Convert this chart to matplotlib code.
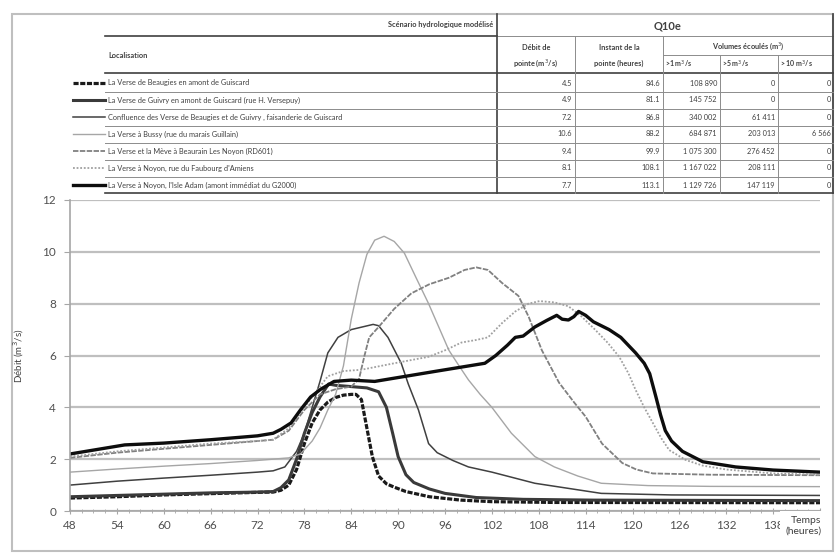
import matplotlib
matplotlib.use("Agg")
import matplotlib.pyplot as plt
from matplotlib.patches import Rectangle
from matplotlib.ticker import MultipleLocator, FixedLocator

plt.rcParams["font.family"] = ["Lato", "DejaVu Sans"]

# ---- data ----
names = [
    "La Verse de Beaugies en amont de Guiscard",
    "La Verse de Guivry en amont de Guiscard (rue H. Versepuy)",
    "Confluence des Verse de Beaugies et de Guivry , faisanderie de Guiscard",
    "La Verse à Bussy (rue du marais Guillain)",
    "La Verse et la Mève à Beaurain Les Noyon (RD601)",
    "La Verse à Noyon, rue du Faubourg d'Amiens",
    "La Verse à Noyon, l'Isle Adam (amont immédiat du G2000)",
]
peak_flow = ["4.5", "4.9", "7.2", "10.6", "9.4", "8.1", "7.7"]
peak_time = ["84.6", "81.1", "86.8", "88.2", "99.9", "108.1", "113.1"]
vol_1 = ["108 890", "145 752", "340 002", "684 871", "1 075 300", "1 167 022", "1 129 726"]
vol_5 = ["0", "0", "61 411", "203 013", "276 452", "208 111", "147 119"]
vol_10 = ["0", "0", "0", "6 566", "0", "0", "0"]

t_beaugies = [48, 54, 60, 66, 72, 74, 75, 76, 77, 78, 79, 80, 81, 82, 83, 84, 84.6, 85.3, 86,
              86.7, 87.5, 88.5, 89.5, 91, 94, 98, 102, 110, 144]
q_beaugies = [0.50, 0.55, 0.62, 0.67, 0.72, 0.73, 0.8, 1.0, 1.6, 2.6, 3.4, 3.9, 4.2, 4.38, 4.47,
              4.5, 4.5, 4.3, 3.2, 2.1, 1.35, 1.05, 0.92, 0.75, 0.55, 0.42, 0.36, 0.33, 0.32]

t_guivry = [48, 54, 60, 66, 72, 74, 75, 76, 77, 78, 79, 80, 81.1, 82, 84, 86, 87.5, 88.5, 89.3,
            90, 91, 92, 94, 96, 100, 106, 115, 144]
q_guivry = [0.55, 0.6, 0.65, 0.7, 0.73, 0.75, 0.9, 1.2, 2.0, 3.0, 3.8, 4.4, 4.9, 4.85, 4.8, 4.75,
            4.6, 4.0, 3.0, 2.1, 1.4, 1.1, 0.85, 0.68, 0.52, 0.45, 0.42, 0.4]

t_confl = [48, 54, 60, 66, 72, 74, 75.5, 77, 78, 79, 80, 81, 82.3, 84, 86.8, 87.5, 88.7, 90.4,
           91.3, 92.6, 93.9, 95, 97, 99, 102, 107.5, 116, 125, 144]
q_confl = [1.0, 1.15, 1.27, 1.38, 1.5, 1.55, 1.7, 2.3, 3.0, 4.0, 5.0, 6.1, 6.7, 7.0, 7.2, 7.15,
           6.7, 5.7, 4.9, 3.9, 2.6, 2.25, 1.95, 1.7, 1.5, 1.07, 0.68, 0.62, 0.6]

t_bussy = [48, 54, 60, 66, 72, 74, 76, 77.5, 79, 80, 81, 82, 83, 84, 85, 86, 87, 88.2, 89.5,
           90.8, 92.3, 93.9, 95.2, 96.5, 97.8, 99, 100.5, 102, 104.5, 107.5, 110, 113, 116,
           122, 130, 144]
q_bussy = [1.5, 1.62, 1.73, 1.83, 1.95, 2.0, 2.05, 2.2, 2.7, 3.2, 3.9, 4.5, 5.6, 7.4, 8.8, 9.9,
           10.45, 10.6, 10.4, 9.95, 9.0, 8.0, 7.1, 6.2, 5.6, 5.06, 4.5, 4.0, 3.0, 2.1, 1.7, 1.35,
           1.07, 0.98, 0.95, 0.94]

t_meve = [48, 54, 60, 66, 72, 74, 76, 78, 80, 82, 84, 85, 85.7, 86.3, 87.5, 89.5, 91.7, 94,
          96.5, 98.5, 100, 101.5, 103.3, 105.4, 106.7, 108.4, 110.6, 112.5, 114, 116.1, 118.7,
          120.5, 122.6, 130, 144]
q_meve = [2.05, 2.25, 2.4, 2.55, 2.7, 2.75, 3.1, 3.9, 4.5, 4.7, 4.8, 5.1, 6.0, 6.7, 7.1, 7.8,
          8.4, 8.75, 9.0, 9.3, 9.4, 9.3, 8.8, 8.3, 7.5, 6.2, 4.95, 4.2, 3.64, 2.6, 1.85, 1.6,
          1.45, 1.4, 1.38]

t_faub = [48, 54, 60, 66, 72, 74, 76, 78, 79.5, 81, 83, 85.3, 89.5, 93.9, 96, 98.1, 100, 101.5,
          103.3, 105, 106.7, 108.1, 110, 111.8, 113.5, 115.2, 116.8, 118.3, 119.5, 120.4, 121.5,
          122.6, 123.7, 124.7, 126.8, 129, 132, 138, 144]
q_faub = [2.1, 2.3, 2.45, 2.6, 2.7, 2.75, 3.2, 4.0, 4.6, 5.2, 5.4, 5.45, 5.7, 5.95, 6.2, 6.5,
          6.6, 6.7, 7.25, 7.7, 8.0, 8.1, 8.05, 7.9, 7.5, 7.0, 6.5, 5.95, 5.3, 4.67, 4.0, 3.4,
          2.8, 2.35, 1.97, 1.75, 1.6, 1.45, 1.4]

t_isle = [48, 51, 55, 60, 66, 72, 74, 75, 76.3, 77.5, 78.8, 80.1, 81.8, 84, 87, 90.4, 95,
          101.1, 102.5, 104, 105, 106, 107.5, 109, 110.3, 111, 111.8, 112.5, 113.1, 114, 115,
          117, 118.5, 120.4, 121.5, 122.2, 123, 123.6, 124.2, 125, 126.4, 129, 133.2, 138, 144]
q_isle = [2.2, 2.35, 2.55, 2.62, 2.75, 2.9, 3.0, 3.15, 3.4, 3.9, 4.4, 4.7, 5.0, 5.05, 5.0,
          5.17, 5.4, 5.7, 6.0, 6.4, 6.7, 6.75, 7.1, 7.35, 7.55, 7.4, 7.37, 7.5, 7.7, 7.55, 7.3,
          7.0, 6.7, 6.1, 5.7, 5.3, 4.4, 3.7, 3.1, 2.7, 2.3, 1.9, 1.7, 1.58, 1.5]

x_ticks = list(range(48, 145, 6))
x_labels = [str(v) for v in range(48, 139, 6)] + [""]

series = [
    (t_beaugies, q_beaugies, dict(color="#1a1a1a", lw=2.3, ls=(0, (1.6, 0.5)))),
    (t_guivry, q_guivry, dict(color="#3a3a3a", lw=2.2, ls="-")),
    (t_confl, q_confl, dict(color="#404040", lw=1.1, ls="-")),
    (t_bussy, q_bussy, dict(color="#a6a6a6", lw=1.0, ls="-")),
    (t_meve, q_meve, dict(color="#808080", lw=1.3, ls=(0, (3, 0.8)))),
    (t_faub, q_faub, dict(color="#a0a0a0", lw=1.3, ls=(0, (1, 1)))),
    (t_isle, q_isle, dict(color="#0d0d0d", lw=2.4, ls="-")),
]

W, H = 837, 555
fig = plt.figure(figsize=(W / 100, H / 100), dpi=100)

# overlay in pixel coordinates for the border and the table
ov = fig.add_axes([0, 0, 1, 1], zorder=0)
ov.set_xlim(0, W)
ov.set_ylim(H, 0)
ov.axis("off")
ov.add_patch(Rectangle((12, 14), 821, 537, fill=False, ec="#bfbfbf", lw=1.5))

txt = "#404040"
fs = 5.3
dark = dict(color="#404040", lw=1.2)
thin = dict(color="#8c8c8c", lw=0.7)

# header
ov.text(493, 25, "Scénario hydrologique modélisé", ha="right", va="center", fontsize=fs,
        fontweight="bold", color=txt)
ov.plot([105, 497], [36, 36], **dark)
ov.text(108, 55, "Localisation", ha="left", va="center", fontsize=fs, fontweight="bold", color=txt)
ov.text(668, 26, "Q10e", ha="center", va="center", fontsize=8, fontweight="bold", color=txt)
ov.plot([497, 833], [36, 36], **thin)
ov.text(536, 47, "Débit de", ha="center", va="center", fontsize=fs, fontweight="bold", color=txt)
ov.text(536, 63, "pointe (m$^3$/s)", ha="center", va="center", fontsize=fs, fontweight="bold", color=txt)
ov.text(619, 47, "Instant de la", ha="center", va="center", fontsize=fs, fontweight="bold", color=txt)
ov.text(619, 63, "pointe (heures)", ha="center", va="center", fontsize=fs, fontweight="bold", color=txt)
ov.text(748, 46, "Volumes écoulés (m$^3$)", ha="center", va="center", fontsize=fs,
        fontweight="bold", color=txt)
ov.plot([663, 833], [55, 55], **thin)
for x0, lab in zip([665, 722, 780], [">1 m$^3$/s", ">5 m$^3$/s", "> 10 m$^3$/s"]):
    ov.text(x0, 64, lab, ha="left", va="center", fontsize=fs - 0.3, fontweight="bold", color=txt)

ov.plot([105, 833], [73, 73], **dark)
ov.plot([105, 833], [193, 193], **dark)
ov.plot([497, 497], [14, 193], **dark)
ov.plot([833, 833], [14, 193], **dark)
for xv in [575, 663]:
    ov.plot([xv, xv], [36, 193], **thin)
for xv in [720, 778]:
    ov.plot([xv, xv], [55, 193], **thin)

row_h = 17
for i, name in enumerate(names):
    yc = 83 + i * row_h
    if i < len(names) - 1:
        ov.plot([105, 833], [yc + 8.5, yc + 8.5], **thin)
    ov.text(108, yc, name, ha="left", va="center", fontsize=fs, color=txt)
    _, _, st = series[i]
    ov.plot([73, 105], [yc, yc], color=st["color"], lw=st["lw"], ls=st["ls"])
    for xr, val in zip([572, 660, 717, 775, 831],
                       [peak_flow[i], peak_time[i], vol_1[i], vol_5[i], vol_10[i]]):
        ov.text(xr, yc, val, ha="right", va="center", fontsize=fs, color=txt)

# ---- chart ----
ax = fig.add_axes([70 / W, 1 - 511 / H, 750 / W, 311 / H], zorder=1)
for t, q, st in series:
    ax.plot(t, q, color=st["color"], lw=st["lw"], ls=st["ls"], solid_joinstyle="round")

ax.set_xlim(48, 144)
ax.set_ylim(0, 12)
ax.yaxis.set_major_locator(MultipleLocator(2))
ax.xaxis.set_major_locator(FixedLocator(x_ticks))
ax.xaxis.set_minor_locator(MultipleLocator(1.5))
ax.set_xticklabels(x_labels)
ax.grid(axis="y", color="#bfbfbf", lw=1.6)
ax.set_axisbelow(True)
for s in ["top", "right"]:
    ax.spines[s].set_visible(False)
ax.spines["left"].set_color("#a6a6a6")
ax.spines["bottom"].set_color("#a6a6a6")
ax.spines["left"].set_linewidth(1.2)
ax.spines["bottom"].set_linewidth(1.2)
ax.tick_params(axis="both", which="both", colors="#a6a6a6", labelcolor="#505050", labelsize=8.5)
ax.tick_params(axis="x", which="major", direction="inout", length=5, pad=4)
ax.tick_params(axis="x", which="minor", direction="inout", length=3)
ax.tick_params(axis="y", which="major", direction="out", length=4, pad=6)

ax.set_ylabel("Débit (m$^3$/s)", fontsize=7, color="#404040", labelpad=12)
ax.text(1.002, -0.015, "Temps\n(heures)", transform=ax.transAxes, ha="right", va="top",
        fontsize=7.5, color="#404040", linespacing=1.25, zorder=5,
        bbox=dict(facecolor="white", edgecolor="none", pad=3.5))

fig.savefig("out.png", dpi=100, facecolor="white")
